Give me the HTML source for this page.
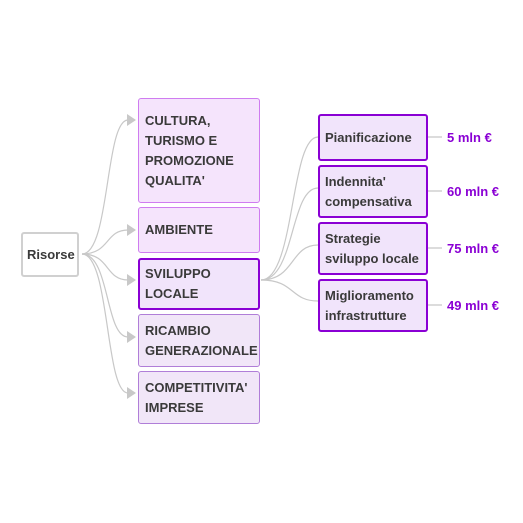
<!DOCTYPE html>
<html><head><style>
body{margin:0;width:523px;height:523px;background:#fff;position:relative;font-family:"Liberation Sans",Arial,sans-serif;overflow:hidden}
.b{position:absolute;box-sizing:border-box;border-radius:3px;font-weight:bold;font-size:13px;color:#3a3a3a;line-height:20px;padding:0 6px;display:flex;flex-direction:column;justify-content:center}
.l{border:1px solid #cf7cf0;background:#f5e4fc}
.m{border:1px solid #b07ed8;background:#f1e6f8}
.d{border:2px solid #8a00d4;background:#f1e4fb;padding:0 5px}
.v{position:absolute;font-weight:bold;font-size:13px;color:#8a00d4}
</style></head><body>
<svg width="523" height="523" style="position:absolute;left:0;top:0" fill="none" stroke="#c8c8c8" stroke-width="1.2">
<path d="M82 254 C110 254,105 120,128 120"/>
<path d="M82 254 C110 254,105 230,128 230"/>
<path d="M82 254 C110 254,105 280,128 280"/>
<path d="M82 254 C110 254,105 337,128 337"/>
<path d="M82 254 C110 254,105 393,128 393"/>
<g fill="#c8c8c8" stroke="none">
<path d="M127 114 L136 120 L127 126Z"/><path d="M127 224 L136 230 L127 236Z"/><path d="M127 274 L136 280 L127 286Z"/><path d="M127 331 L136 337 L127 343Z"/><path d="M127 387 L136 393 L127 399Z"/>
</g>
<path d="M261 280 C295 280,290 137,318 137"/>
<path d="M261 280 C295 280,290 188,318 188"/>
<path d="M261 280 C295 280,290 245,318 245"/>
<path d="M261 280 C295 280,290 301,318 301"/>
<path d="M427 137 H442 M427 191 H442 M427 248 H442 M427 305 H442"/>
</svg>
<div class="b" style="left:21px;top:232px;width:58px;height:45px;border:2px solid #d0d0d0;background:#fff;padding:0 4px">Risorse</div>
<div class="b l" style="left:138px;top:98px;width:122px;height:105px">CULTURA,<br>TURISMO E<br>PROMOZIONE<br>QUALITA'</div>
<div class="b l" style="left:138px;top:207px;width:122px;height:46px">AMBIENTE</div>
<div class="b d" style="left:138px;top:258px;width:122px;height:52px">SVILUPPO<br>LOCALE</div>
<div class="b m" style="left:138px;top:314px;width:122px;height:53px">RICAMBIO<br>GENERAZIONALE</div>
<div class="b m" style="left:138px;top:371px;width:122px;height:53px">COMPETITIVITA'<br>IMPRESE</div>
<div class="b d" style="left:318px;top:114px;width:110px;height:47px">Pianificazione</div>
<div class="b d" style="left:318px;top:165px;width:110px;height:53px">Indennita'<br>compensativa</div>
<div class="b d" style="left:318px;top:222px;width:110px;height:53px">Strategie<br>sviluppo locale</div>
<div class="b d" style="left:318px;top:279px;width:110px;height:53px">Miglioramento<br>infrastrutture</div>
<div class="v" style="left:447px;top:130px">5 mln €</div>
<div class="v" style="left:447px;top:184px">60 mln €</div>
<div class="v" style="left:447px;top:241px">75 mln €</div>
<div class="v" style="left:447px;top:298px">49 mln €</div>
</body></html>
